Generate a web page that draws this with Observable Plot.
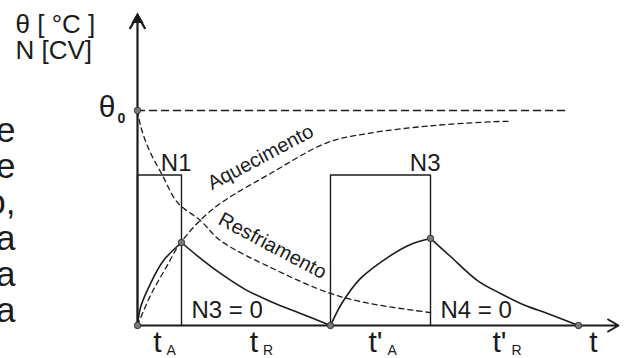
<!DOCTYPE html>
<html>
<head>
<meta charset="utf-8">
<script src="https://cdn.jsdelivr.net/npm/d3@7"></script>
<script src="https://cdn.jsdelivr.net/npm/@observablehq/plot@0.6"></script>
<style>
  html, body { margin: 0; padding: 0; background: #fff; }
  #chart svg { display: block; }
</style>
</head>
<body>
<div id="chart"></div>
<script>
// Temperature in % of the steady-state value θ0; power N on the same vertical scale.
const theta0 = 100;
const powerLevel = 70;

// Motor temperature during the duty cycle (solid curves)
const heat1T = [0, 0.3, 1.3, 2.6, 4.4];
const heat1V = [0, 8.4, 19.5, 30.2, 38.6];
const cool1T = [4.4, 6.3, 8.3, 10.8, 13.3, 16.3, 19.3];
const cool1V = [38.6, 31.2, 24.2, 16.7, 11.2, 5.6, 0];
const heat2T = [19.3, 20.3, 21.3, 22.3, 25.0, 27.3, 29.3];
const heat2V = [0, 9.3, 16.3, 21.9, 31.6, 37.7, 40.5];
const cool2T = [29.3, 31.3, 34.0, 36.3, 38.8, 41.0, 44.1];
const cool2V = [40.5, 32.1, 20.9, 14.9, 9.3, 5.6, 0];

// Continuous heating and cooling curves (dashed)
const aqT = [0, 1.3, 2.8, 4.4, 7.6, 13.3, 19.0, 23.0, 29.6, 36.3, 37.3];
const aqV = [0, 14, 26.5, 39, 54.4, 70.7, 85.1, 89.3, 93.0, 94.9, 94.9];
const resT = [0, 0.3, 1.1, 2.5, 4.0, 6.3, 8.3, 13.3, 19.3, 23.3, 29.3];
const resV = [100, 93, 82.3, 69.8, 57.2, 48.8, 39.5, 27, 14.9, 10.2, 6.0];

// Power on / off intervals
const onStart = [0, 19.3];
const onEnd = [4.4, 29.3];
const onLabels = ["N1", "N3"];
const offLabels = ["N3 = 0", "N4 = 0"];

// Axis labels under the time axis
const tickPos = [2.2, 11.85, 24.3, 36.7, 45.8];
const tickMain = ["t", "t", "t'", "t'", "t"];
const tickSub = ["A", "R", "A", "R", ""];

// Curve captions
const captions = ["Aquecimento", "Resfriamento"];
const captionT = [12.6, 13.2];
const captionV = [75.6, 34.4];
const captionAngle = [-28, 28];

const tMax = 48.1;
const vTop = 144.2;
const thetaLineEnd = 43.1;

const pts = (T, V) => T.map((t, i) => ({t, v: V[i]}));
const curves = [pts(heat1T, heat1V), pts(cool1T, cool1V), pts(heat2T, heat2V), pts(cool2T, cool2V)];
const boxes = onStart.map((s, i) => pts([s, s, onEnd[i], onEnd[i]], [0, powerLevel, powerLevel, 0]));
const joints = [{t: 0, v: theta0}, ...curves.flatMap((c, i) => i === 0 ? [c[0], c[c.length - 1]] : [c[c.length - 1]])];

const ink = "#1b1b1b";
const font = "Liberation Sans, Arial, Helvetica, sans-serif";

const chart = Plot.plot({
  width: 624,
  height: 358,
  margin: 0,
  x: {domain: [-13.7, 48.7], axis: null},
  y: {domain: [-15.35, 151.16], axis: null},
  style: {fontFamily: font, color: ink, background: "#fff"},
  marks: [
    // θ0 reference
    Plot.ruleY([theta0], {x1: 0, x2: thetaLineEnd, stroke: ink, strokeWidth: 1.3, strokeDasharray: "8,4"}),
    // dashed heating / cooling
    Plot.line(pts(aqT, aqV), {x: "t", y: "v", curve: "catmull-rom", stroke: ink, strokeWidth: 1.3, strokeDasharray: "5,4"}),
    Plot.line(pts(resT, resV), {x: "t", y: "v", curve: "catmull-rom", stroke: ink, strokeWidth: 1.3, strokeDasharray: "5,4"}),
    // power blocks
    ...boxes.map(b => Plot.line(b, {x: "t", y: "v", stroke: ink, strokeWidth: 1.4})),
    // temperature during the cycle
    ...curves.map(c => Plot.line(c, {x: "t", y: "v", curve: "catmull-rom", stroke: ink, strokeWidth: 1.6})),
    // axes
    Plot.arrow([0], {x1: 0, y1: 0, x2: tMax, y2: 0, stroke: ink, strokeWidth: 2, headLength: 9, bend: 0}),
    Plot.arrow([0], {x1: 0, y1: 0, x2: 0, y2: vTop, stroke: ink, strokeWidth: 2.2, headLength: 10, bend: 0}),
    Plot.dot([0], {x: 0, y: vTop, symbol: "triangle", r: 4.5, fill: ink, dy: 4}),
    // joints
    Plot.dot(joints, {x: "t", y: "v", r: 3.2, fill: "#7a7a7a", stroke: "#333", strokeWidth: 1}),
    // power labels
    Plot.text(onLabels, {x: (d, i) => onEnd[i], y: powerLevel, text: d => d, textAnchor: "end", lineAnchor: "bottom", dx: 10, dy: -4, fontSize: 24, fill: ink}),
    Plot.text(offLabels, {x: (d, i) => onEnd[i], y: 0, text: d => d, textAnchor: "start", lineAnchor: "bottom", dx: 10, dy: -7, fontSize: 24, fill: ink}),
    // curve captions
    Plot.text(captions, {x: (d, i) => captionT[i], y: (d, i) => captionV[i], text: d => d, rotate: (d, i) => captionAngle[i], lineAnchor: "bottom", fontSize: 20, fill: ink}),
    // time labels
    Plot.text(tickMain, {x: (d, i) => tickPos[i], y: 0, text: d => d, textAnchor: "end", lineAnchor: "bottom", dx: 2, dy: 27, fontSize: 30, fill: ink}),
    Plot.text(tickSub, {x: (d, i) => tickPos[i], y: 0, text: d => d, textAnchor: "start", lineAnchor: "bottom", dx: 7, dy: 30, fontSize: 14, fill: ink}),
    // θ0
    Plot.text(["θ"], {x: 0, y: theta0, textAnchor: "end", lineAnchor: "bottom", dx: -22, dy: 7, fontSize: 30, fill: ink}),
    Plot.text(["0"], {x: 0, y: theta0, textAnchor: "start", lineAnchor: "bottom", dx: -20, dy: 13, fontSize: 14, fontWeight: "bold", fill: ink}),
    // vertical axis title
    Plot.text(["θ [ °C ]\nN [CV]"], {frameAnchor: "top-left", textAnchor: "start", lineAnchor: "top", dx: 15, dy: 14, fontSize: 26, lineHeight: 1, fill: ink}),
    // running text from the page
    Plot.text(["e\ne\no,\na\na\na"], {frameAnchor: "top-left", textAnchor: "end", lineAnchor: "top", dx: 15, dy: 116, fontSize: 35, lineHeight: 36 / 35, fill: ink})
  ]
});
document.getElementById("chart").append(chart);
</script>
</body>
</html>
